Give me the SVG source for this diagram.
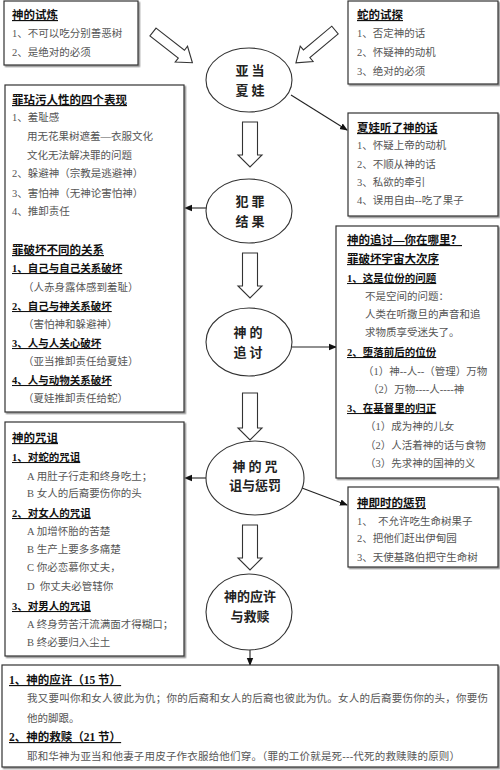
<svg xmlns="http://www.w3.org/2000/svg" width="500" height="770" viewBox="0 0 500 770">
<defs>
<style>
.box{fill:#fff;stroke:#333;stroke-width:1.2}
.ell{fill:#fff;stroke:#333;stroke-width:1.1}
.blk{fill:#fff;stroke:#333;stroke-width:1.1;stroke-linejoin:miter}
.con{stroke:#222;stroke-width:1.1;fill:none}
.t{font-family:"Liberation Serif","Noto Sans CJK SC",serif;font-size:10.5px;fill:#555}
.h{font-family:"Liberation Serif","Noto Sans CJK SC",sans-serif;font-size:11.5px;font-weight:bold;fill:#111;text-decoration:underline}
.s{font-family:"Liberation Serif","Noto Sans CJK SC",sans-serif;font-size:10.5px;font-weight:bold;fill:#111;text-decoration:underline}
.e{font-family:"Noto Sans CJK SC",sans-serif;font-size:13px;font-weight:600;fill:#222;text-anchor:middle}
</style>
<filter id="sh" x="-5%" y="-5%" width="115%" height="115%">
<feDropShadow dx="1.5" dy="1.5" stdDeviation="0.6" flood-color="#777" flood-opacity="0.8"/>
</filter>
<marker id="ah" markerWidth="8" markerHeight="8" refX="7" refY="4" orient="auto" markerUnits="userSpaceOnUse">
<path d="M0,0.8 L8,4 L0,7.2 Z" fill="#111"/>
</marker>
</defs>
<rect width="500" height="770" fill="#fff"/>

<g id="connectors">
<polygon class="blk" points="0,-5 36,-5 36,-10 50,0 36,10 36,5 0,5" transform="translate(153,32) rotate(38)"/>
<polygon class="blk" points="0,-5 37,-5 37,-10 51,0 37,10 37,5 0,5" transform="translate(335,30) rotate(140)"/>
<polygon class="blk" points="242.5,122 257.5,122 257.5,155 262,155 250,167 238,155 242.5,155"/>
<polygon class="blk" points="242.5,253 257.5,253 257.5,286 262,286 250,298 238,286 242.5,286"/>
<polygon class="blk" points="242.5,393 257.5,393 257.5,428 262,428 250,440 238,428 242.5,428"/>
<polygon class="blk" points="242.5,525 257.5,525 257.5,558 262,558 250,570 238,558 242.5,558"/>
<line class="con" x1="291" y1="95" x2="347" y2="130" marker-end="url(#ah)"/>
<line class="con" x1="207" y1="208" x2="185" y2="208" marker-end="url(#ah)"/>
<line class="con" x1="292" y1="347" x2="336" y2="347" marker-end="url(#ah)"/>
<line class="con" x1="206" y1="478" x2="185" y2="478" marker-end="url(#ah)"/>
<line class="con" x1="302" y1="488" x2="347" y2="505" marker-end="url(#ah)"/>
<line class="con" x1="250" y1="650" x2="250" y2="665" marker-end="url(#ah)"/>
</g>

<g id="box-trial">
<rect class="box" x="4" y="1" width="134" height="64" filter="url(#sh)"/>
<text class="h" x="12" y="19">神的试炼</text>
<text class="t" x="12" y="37">1、不可以吃分别善恶树</text>
<text class="t" x="12" y="56">2、是绝对的必须</text>
</g>

<g id="box-serpent">
<rect class="box" x="348" y="1" width="150" height="83" filter="url(#sh)"/>
<text class="h" x="357" y="19">蛇的试探</text>
<text class="t" x="357" y="37">1、否定神的话</text>
<text class="t" x="357" y="56">2、怀疑神的动机</text>
<text class="t" x="357" y="75">3、绝对的必须</text>
</g>

<g id="node-adam-eve">
<ellipse class="ell" cx="249" cy="80" rx="43" ry="32"/>
<text class="e" x="250" y="75">亚 当</text>
<text class="e" x="250" y="95">夏 娃</text>
</g>

<g id="box-eve">
<rect class="box" x="348" y="113" width="150" height="103" filter="url(#sh)"/>
<text class="h" x="357" y="132">夏娃听了神的话</text>
<text class="t" x="357" y="149">1、怀疑上帝的动机</text>
<text class="t" x="357" y="168">2、不顺从神的话</text>
<text class="t" x="357" y="186">3、私欲的牵引</text>
<text class="t" x="357" y="204">4、误用自由--吃了果子</text>
</g>

<g id="node-result">
<ellipse class="ell" cx="249" cy="211" rx="43" ry="32"/>
<text class="e" x="250" y="206">犯 罪</text>
<text class="e" x="250" y="226">结 果</text>
</g>

<g id="box-sin">
<rect class="box" x="5" y="85" width="179" height="327" filter="url(#sh)"/>
<text class="h" x="12" y="104">罪玷污人性的四个表现</text>
<text class="t" x="12" y="121">1、羞耻感</text>
<text class="t" x="27" y="140">用无花果树遮羞—衣服文化</text>
<text class="t" x="27" y="159">文化无法解决罪的问题</text>
<text class="t" x="12" y="177">2、躲避神（宗教是逃避神）</text>
<text class="t" x="12" y="197">3、害怕神（无神论害怕神）</text>
<text class="t" x="12" y="215">4、推卸责任</text>
<text class="h" x="12" y="254">罪破坏不同的关系</text>
<text class="s" x="12" y="272">1、自己与自己关系破坏</text>
<text class="t" x="23" y="291">（人赤身露体感到羞耻）</text>
<text class="s" x="12" y="310">2、自己与神关系破坏</text>
<text class="t" x="23" y="328">（害怕神和躲避神）</text>
<text class="s" x="12" y="347">3、人与人关心破坏</text>
<text class="t" x="23" y="365">（亚当推卸责任给夏娃）</text>
<text class="s" x="12" y="384">4、人与动物关系破坏</text>
<text class="t" x="23" y="402">（夏娃推卸责任给蛇）</text>
</g>

<g id="node-pursuit">
<ellipse class="ell" cx="249" cy="342" rx="43" ry="34"/>
<text class="e" x="248" y="337">神  的</text>
<text class="e" x="248" y="357">追  讨</text>
</g>

<g id="box-pursuit">
<rect class="box" x="336" y="226" width="162" height="252" filter="url(#sh)"/>
<text class="h" x="347" y="244">神的追讨—你在哪里？</text>
<text class="h" x="347" y="263">罪破坏宇宙大次序</text>
<text class="s" x="347" y="282">1、这是位份的问题</text>
<text class="t" x="365" y="300">不是空间的问题：</text>
<text class="t" x="365" y="318">人类在听撒旦的声音和追</text>
<text class="t" x="365" y="336">求物质享受迷失了。</text>
<text class="s" x="347" y="356">2、堕落前后的位份</text>
<text class="t" x="363" y="375">（1）神--人--（管理）万物</text>
<text class="t" x="368" y="393">（2）万物----人----神</text>
<text class="s" x="347" y="412">3、在基督里的归正</text>
<text class="t" x="365" y="430">（1）成为神的儿女</text>
<text class="t" x="365" y="449">（2）人活着神的话与食物</text>
<text class="t" x="365" y="467">（3）先求神的国神的义</text>
</g>

<g id="node-curse">
<ellipse class="ell" cx="255" cy="478" rx="49" ry="37"/>
<text class="e" x="255" y="471">神 的 咒</text>
<text class="e" x="255" y="490">诅与惩罚</text>
</g>

<g id="box-curse">
<rect class="box" x="5" y="422" width="179" height="234" filter="url(#sh)"/>
<text class="h" x="12" y="442">神的咒诅</text>
<text class="s" x="12" y="461">1、对蛇的咒诅</text>
<text class="t" x="27" y="480">A 用肚子行走和终身吃土；</text>
<text class="t" x="27" y="497">B 女人的后裔要伤你的头</text>
<text class="s" x="12" y="517">2、对女人的咒诅</text>
<text class="t" x="27" y="535">A 加增怀胎的苦楚</text>
<text class="t" x="27" y="553">B 生产上要多多痛楚</text>
<text class="t" x="27" y="571">C 你必恋慕你丈夫，</text>
<text class="t" x="27" y="590" xml:space="preserve">D  你丈夫必管辖你</text>
<text class="s" x="12" y="610">3、对男人的咒诅</text>
<text class="t" x="27" y="628">A 终身劳苦汗流满面才得糊口；</text>
<text class="t" x="27" y="646">B 终必要归入尘土</text>
</g>

<g id="box-punish">
<rect class="box" x="348" y="487" width="150" height="80" filter="url(#sh)"/>
<text class="h" x="357" y="507">神即时的惩罚</text>
<text class="t" x="357" y="525" xml:space="preserve">1、  不允许吃生命树果子</text>
<text class="t" x="357" y="542">2、把他们赶出伊甸园</text>
<text class="t" x="357" y="561">3、天使基路伯把守生命树</text>
</g>

<g id="node-promise">
<ellipse class="ell" cx="249" cy="612" rx="43" ry="38"/>
<text class="e" x="250" y="601">神的应许</text>
<text class="e" x="250" y="621">与救赎</text>
</g>

<g id="box-promise">
<rect class="box" x="2" y="665" width="496" height="102" filter="url(#sh)"/>
<text class="h" x="9" y="684">1、神的应许（15 节）</text>
<text class="t" x="27" y="702" textLength="461" lengthAdjust="spacing">我又要叫你和女人彼此为仇；你的后裔和女人的后裔也彼此为仇。女人的后裔要伤你的头，你要伤</text>
<text class="t" x="27" y="722">他的脚跟。</text>
<text class="h" x="9" y="741">2、神的救赎（21 节）</text>
<text class="t" x="27" y="760" textLength="433" lengthAdjust="spacing">耶和华神为亚当和他妻子用皮子作衣服给他们穿。（罪的工价就是死---代死的救赎赎的原则）</text>
</g>
</svg>
